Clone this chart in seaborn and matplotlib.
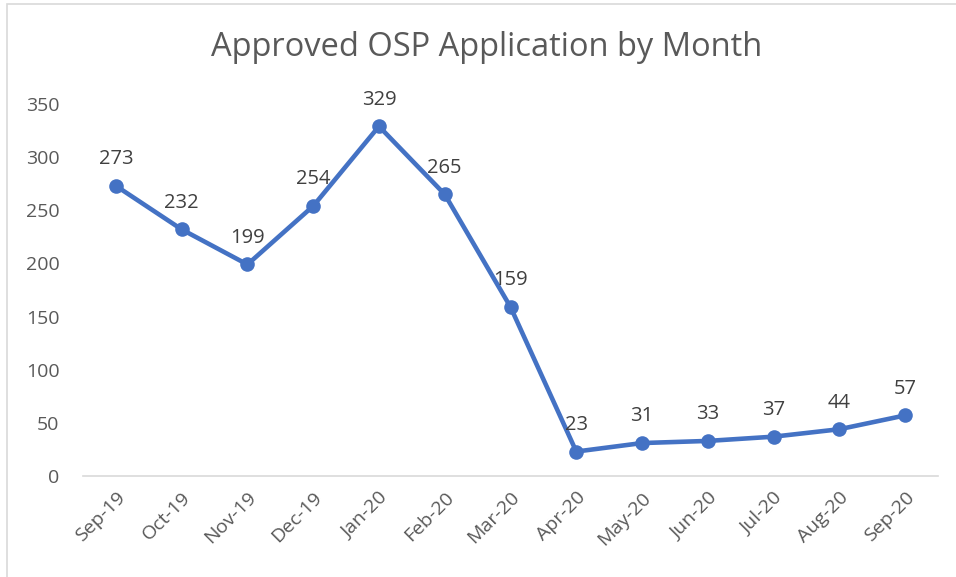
import matplotlib
matplotlib.use("Agg")
import matplotlib.pyplot as plt
from matplotlib.patches import Rectangle
import seaborn as sns
import pandas as pd

months = ["Sep-19", "Oct-19", "Nov-19", "Dec-19", "Jan-20", "Feb-20", "Mar-20",
          "Apr-20", "May-20", "Jun-20", "Jul-20", "Aug-20", "Sep-20"]
approved = [273, 232, 199, 254, 329, 265, 159, 23, 31, 33, 37, 44, 57]
y_ticks = [0, 50, 100, 150, 200, 250, 300, 350]

sns.set_theme(style="white")
plt.rcParams["font.family"] = ["Open Sans", "DejaVu Sans"]

text_color = "#595959"
line_color = "#4472C4"

df = pd.DataFrame({"Month": months, "Approved": approved})
df["pos"] = range(len(df))

fig = plt.figure(figsize=(9.56, 5.77), dpi=100)
ax = fig.add_axes([83 / 956, 1 - 476 / 577, (938 - 83) / 956, (476 - 104) / 577])

sns.lineplot(data=df, x="pos", y="Approved", ax=ax, color=line_color,
             linewidth=3.3, marker="o", markersize=10.5, markeredgewidth=0)

for x, y in zip(df["pos"], df["Approved"]):
    ax.annotate(str(y), (x, y), xytext=(0, 12), textcoords="offset points",
                ha="center", va="bottom", fontsize=14.5, color="#404040")

ax.set_xlim(-0.5, len(months) - 0.5)
ax.set_ylim(0, 350)
ax.set_yticks(y_ticks)
ax.set_yticklabels([str(v) for v in y_ticks], fontsize=14, color=text_color)
ax.set_xticks(df["pos"])
ax.set_xticklabels(months, rotation=45, ha="right", rotation_mode="anchor",
                   fontsize=14, color=text_color)
ax.set_xticks([p - 0.5 for p in range(len(months) + 1)], minor=True)
ax.tick_params(axis="x", which="major", length=0, pad=9)
ax.tick_params(axis="x", which="minor", length=6, color="#d9d9d9", width=1.2)
ax.tick_params(axis="y", length=0, pad=17)
ax.set_xlabel("")
ax.set_ylabel("")

for side in ["top", "right", "left"]:
    ax.spines[side].set_visible(False)
ax.spines["bottom"].set_color("#d9d9d9")
ax.spines["bottom"].set_linewidth(1.2)

fig.text(487 / 956, 1 - 48 / 577, "Approved OSP Application by Month",
         ha="center", va="center", fontsize=23.5, color=text_color)

fig.patches.append(Rectangle((7 / 956, -0.1), 1.2, 1.1 - 4 / 577,
                             transform=fig.transFigure, fill=False,
                             edgecolor="#d9d9d9", linewidth=1.2))

fig.savefig("out.png", dpi=100, facecolor="white")
plt.close(fig)
